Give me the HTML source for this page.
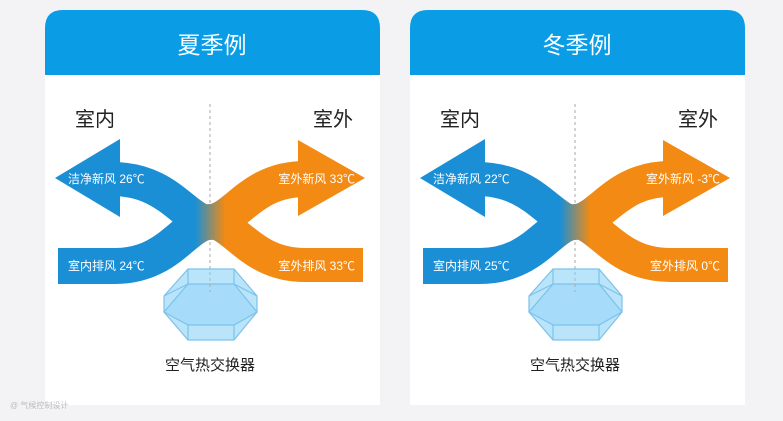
<!DOCTYPE html>
<html><head><meta charset="utf-8"><style>
html,body{margin:0;padding:0;width:783px;height:421px;background:#f3f3f5;overflow:hidden}
svg{display:block}
text{font-family:"Liberation Sans","Noto Sans CJK SC",sans-serif}
</style></head><body>
<svg width="783" height="421" viewBox="0 0 783 421" xmlns="http://www.w3.org/2000/svg">
<defs>
<linearGradient id="g1" gradientUnits="userSpaceOnUse" x1="195" y1="0" x2="225" y2="0">
<stop offset="0" stop-color="#1a8fd6"/><stop offset="1" stop-color="#f28a14"/></linearGradient>
<linearGradient id="g2" gradientUnits="userSpaceOnUse" x1="560" y1="0" x2="590" y2="0">
<stop offset="0" stop-color="#1a8fd6"/><stop offset="1" stop-color="#f28a14"/></linearGradient>
<g id="panel">
<path d="M45,405 L45,28 Q45,10 63,10 L362,10 Q380,10 380,28 L380,405 Z" fill="#fff"/>
<path d="M45,75 L45,28 Q45,10 63,10 L362,10 Q380,10 380,28 L380,75 Z" fill="#0a9de6"/>
<text x="75" y="126" font-size="20" fill="#222">室内</text>
<text x="313" y="126" font-size="20" fill="#222">室外</text>
<line x1="210" y1="104" x2="210" y2="292" stroke="#aaa" stroke-width="1" stroke-dasharray="3,3"/>
<text x="210" y="370" font-size="15" fill="#222" text-anchor="middle">空气热交换器</text>
</g>
<g id="hex" fill="rgba(130,205,245,0.55)" stroke="#7cc2ea" stroke-width="1.2">
<polygon points="188,269 234,269 257,296 257,312 234,340 188,340 164,312 164,296"/>
<polygon points="188,284 234,284 257,312 234,325 188,325 164,312" fill="rgba(130,205,245,0.35)"/>
<line x1="164" y1="296" x2="188" y2="284"/><line x1="257" y1="296" x2="234" y2="284"/>
<line x1="188" y1="269" x2="188" y2="284"/><line x1="234" y1="269" x2="234" y2="284"/>
<line x1="188" y1="325" x2="188" y2="340"/><line x1="234" y1="325" x2="234" y2="340"/>
<line x1="210" y1="284" x2="210" y2="292" stroke="#aaa" stroke-width="1" stroke-dasharray="3,3"/>
</g>
</defs>
<use href="#panel"/>
<use href="#panel" x="365"/>
<text x="212" y="53" font-size="23" fill="#fff" text-anchor="middle">夏季例</text>
<text x="577" y="53" font-size="23" fill="#fff" text-anchor="middle">冬季例</text>

<g fill="none">
<path d="M112,179 C170,179 185,222 210,222 C235,222 250,265 305,265 L363,265" stroke="url(#g1)" stroke-width="34"/>
<path d="M58,266 L115,266 C170,266 185,222 210,222 C235,222 250,179 305,179" stroke="url(#g1)" stroke-width="36"/>
<path d="M477,179 C535,179 550,222 575,222 C600,222 615,265 670,265 L728,265" stroke="url(#g2)" stroke-width="34"/>
<path d="M423,266 L480,266 C535,266 550,222 575,222 C600,222 615,179 670,179" stroke="url(#g2)" stroke-width="36"/>
</g>
<polygon points="55,178 120,139 120,217" fill="#1a8fd6"/>
<polygon points="365,178 298,140 298,216" fill="#f28a14"/>
<polygon points="420,178 485,139 485,217" fill="#1a8fd6"/>
<polygon points="730,178 663,140 663,216" fill="#f28a14"/>
<use href="#hex"/>
<use href="#hex" x="365"/>

<g font-size="12" fill="#fff">
<text x="68" y="183">洁净新风 26℃</text>
<text x="68" y="270">室内排风 24℃</text>
<text x="355" y="183" text-anchor="end">室外新风 33℃</text>
<text x="355" y="270" text-anchor="end">室外排风 33℃</text>
<text x="433" y="183">洁净新风 22℃</text>
<text x="433" y="270">室内排风 25℃</text>
<text x="720" y="183" text-anchor="end">室外新风 -3℃</text>
<text x="720" y="270" text-anchor="end">室外排风 0℃</text>
</g>
<text x="10" y="408" font-size="8" fill="#bbb">@ 气候控制设计</text>
</svg>
</body></html>
